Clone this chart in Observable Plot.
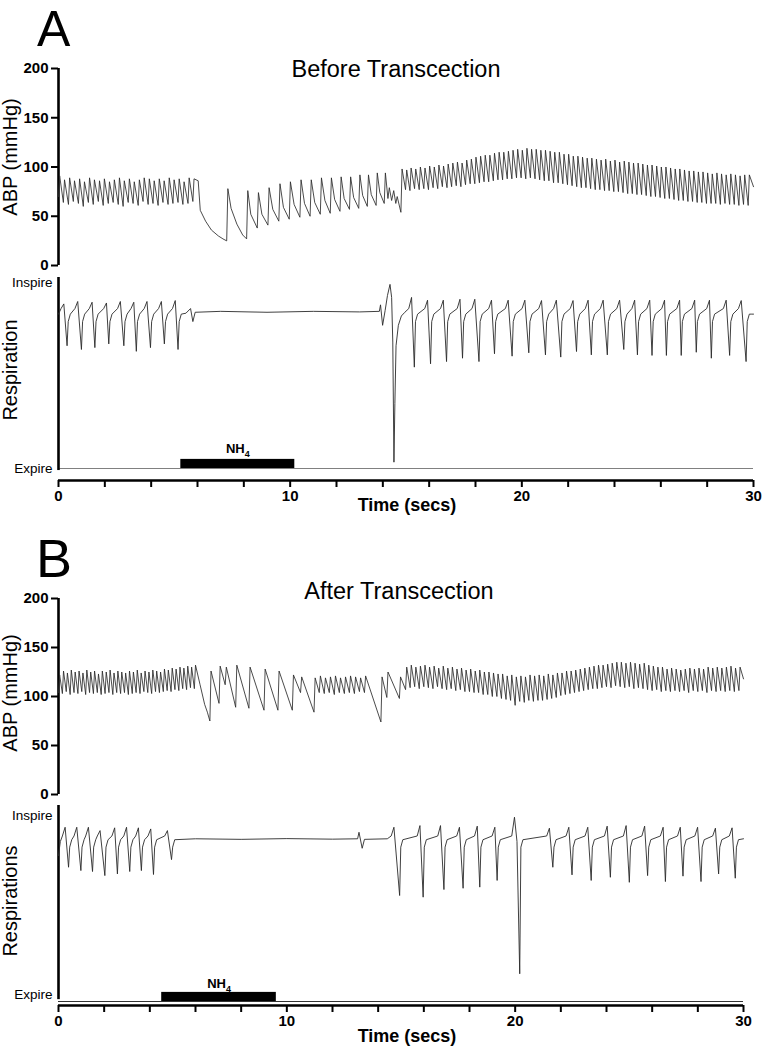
<!DOCTYPE html>
<html>
<head>
<meta charset="utf-8">
<script src="https://cdn.jsdelivr.net/npm/d3@7"></script>
<script src="https://cdn.jsdelivr.net/npm/@observablehq/plot@0.6"></script>
<style>
  html, body { margin: 0; padding: 0; background: #fff; }
  #fig { position: relative; width: 764px; height: 1050px; overflow: hidden; font-family: "Liberation Sans", Arial, Helvetica, sans-serif; }
  #fig svg { position: absolute; left: 0; overflow: visible; max-width: none; }
  #fig g[aria-label$="tick label"] text { font-weight: bold; }
</style>
</head>
<body>
<div id="fig"></div>
<script>
// ---------------- axes / labels ----------------
const timeDomain = [0, 30];
const timeTicks = [0, 2, 4, 6, 8, 10, 12, 14, 16, 18, 20, 22, 24, 26, 28, 30];
const timeLabels = [0, 10, 20, 30];
const abpDomain = [0, 200];
const abpTicks = [0, 50, 100, 150, 200];
const respLabels = ["Expire", "Inspire"];
const respLevels = [0, 1];
const panelTitles = ["Before Transcection", "After Transcection"];
const panelLetters = ["A", "B"];
const respTitles = ["Respiration", "Respirations"];
const nh4A = [5.28, 10.2];   // NH4 application (s), panel A
const nh4B = [4.52, 9.54];   // NH4 application (s), panel B

// ---------------- Panel A : arterial blood pressure (mmHg) ----------------
// beat onsets (s), diastolic trough and systolic peak of each beat
const abpA_onset = [0.00,0.21,0.43,0.64,0.86,1.07,1.29,1.50,1.72,1.93,2.15,2.36,2.58,2.79,3.01,3.22,3.44,3.65,3.87,4.08,4.30,4.51,4.73,4.94,5.16,5.37,5.59,5.80,
  7.26,8.12,8.58,9.04,9.51,9.96,10.42,10.86,11.30,11.73,12.15,12.56,12.96,13.33,13.71,14.06,
  14.78,14.98,15.17,15.37,15.57,15.77,15.97,16.17,16.37,16.57,
  16.77,16.97,17.17,17.37,17.57,17.77,17.97,18.17,18.37,18.57,
  18.77,18.97,19.17,19.37,19.57,19.77,19.97,20.17,20.37,20.57,
  20.77,20.97,21.17,21.37,21.57,21.77,21.97,22.17,22.37,22.57,
  22.77,22.97,23.17,23.37,23.57,23.77,23.97,24.17,24.37,24.57,
  24.77,24.97,25.17,25.37,25.57,25.77,25.97,26.17,26.37,26.57,
  26.77,26.97,27.17,27.37,27.57,27.77,27.97,28.17,28.37,28.57,
  28.77,28.97,29.17,29.37,29.57,29.77];
const abpA_low = [70,64,62,65,63,60,64,62,65,61,63,64,62,60,64,63,61,65,62,63,61,64,62,63,64,62,63,65,
  25,27,38,41,45,47,49,50,52,53,55,57,58,60,61,63,
  54,77,76,78,77,78,77,79,78,80,
  79,80,81,80,82,83,83,84,85,85,
  86,87,87,88,88,89,89,88,89,88,
  87,86,86,84,84,83,82,81,80,79,
  79,78,77,77,76,76,75,75,74,73,
  73,72,72,71,70,70,69,68,68,67,
  66,66,65,65,64,64,63,63,63,62,
  63,62,62,61,62,61];
const abpA_high = [91,87,89,86,88,85,89,87,86,88,85,87,89,86,88,85,87,89,88,86,88,86,89,87,88,85,89,88,
  78,76,74,79,83,85,87,87,89,89,90,90,92,92,94,94,
  98,97,99,98,100,99,101,100,102,101,
  103,104,105,104,107,108,110,111,112,112,
  114,115,115,116,117,118,117,119,118,118,
  117,117,116,115,115,113,113,111,111,110,
  109,109,108,107,108,106,107,105,106,105,
  104,104,103,102,102,101,100,100,99,98,
  98,97,96,96,95,95,94,93,94,93,
  92,93,92,91,92,92];
// irregular stretches of the trace (NH4 fall, decays, transition)
const abpA_extraT = [6.03,6.12,6.35,6.60,6.90,7.10,7.45,7.70,7.95,8.30,8.78,9.25,9.71,10.17,10.62,11.06,11.50,11.92,12.33,12.74,13.13,13.50,13.87,14.22,14.28,14.38,14.47,14.56,14.62,30.00];
const abpA_extraV = [86,56,45,36,30,27,58,42,31,52,52,57,59,62,63,64,66,67,68,69,71,72,74,68,79,66,76,63,70,80];

// ---------------- Panel A : respiration (0 = Expire, 1 = Inspire) ----------------
const respA_peakT = [0.23,0.83,1.45,2.07,2.67,3.25,3.82,4.44,5.04,
  15.24,15.93,16.61,17.33,17.97,18.69,19.41,20.13,20.85,21.49,22.21,22.86,23.51,24.22,24.87,25.52,26.16,26.81,27.46,28.10,28.82,29.47];
const respA_peakV = [0.885,0.898,0.894,0.89,0.898,0.894,0.898,0.898,0.903,
  0.92,0.905,0.905,0.91,0.91,0.905,0.905,0.905,0.903,0.905,0.903,0.905,0.905,0.905,0.905,0.905,0.905,0.905,0.905,0.905,0.905,0.903];
const respA_troughT = [0.37,0.99,1.57,2.17,2.82,3.36,3.97,4.57,5.16,
  15.36,16.06,16.75,17.44,18.15,18.82,19.58,20.30,21.02,21.68,22.36,23.00,23.69,24.40,24.99,25.62,26.24,26.88,27.53,28.18,28.97,29.68];
const respA_troughV = [0.66,0.64,0.65,0.67,0.66,0.63,0.65,0.67,0.64,
  0.545,0.563,0.575,0.593,0.575,0.617,0.604,0.622,0.611,0.599,0.629,0.611,0.611,0.64,0.611,0.608,0.608,0.608,0.625,0.593,0.608,0.575];
const respA_plateau = [0.79, 0.83, 0.86]; // after recovery, plateau, just before inspiration peak
const respA_extraT = [0.00,5.50,5.70,5.80,5.90,7.00,9.00,11.00,13.00,13.85,13.90,13.99,14.10,14.20,14.31,14.38,14.43,14.48,14.52,14.57,14.67,14.80,14.95,29.90,30.00];
const respA_extraV = [0.83,0.835,0.86,0.79,0.84,0.845,0.84,0.845,0.842,0.845,0.88,0.77,0.85,0.93,0.99,0.92,0.68,0.034,0.35,0.66,0.77,0.82,0.84,0.83,0.83];

// ---------------- Panel B : arterial blood pressure (mmHg) ----------------
const abpB_onset = [0.00,0.17,0.34,0.51,0.68,0.85,1.02,1.19,1.36,1.53,1.70,1.87,2.04,2.21,2.38,2.55,2.72,2.89,3.06,3.23,3.40,3.57,3.74,3.91,4.08,4.25,4.42,4.59,4.76,4.93,5.10,5.27,5.44,5.61,5.78,5.95,
  6.63,7.03,7.30,7.76,8.34,9.00,9.61,10.24,10.60,11.19,
  11.42,11.64,11.86,12.08,12.30,12.52,12.74,12.96,13.18,13.40,
  14.12,14.38,14.93,
  15.20,15.40,15.60,15.80,16.00,16.20,16.40,16.60,16.80,17.00,
  17.20,17.40,17.60,17.80,18.00,18.20,18.40,18.60,18.80,19.00,
  19.20,19.40,19.60,19.80,20.00,20.20,20.40,20.60,20.80,21.00,
  21.20,21.40,21.60,21.80,22.00,22.20,22.40,22.60,22.80,23.00,
  23.20,23.40,23.60,23.80,24.00,24.20,24.40,24.60,24.80,25.00,
  25.20,25.40,25.60,25.80,26.00,26.20,26.40,26.60,26.80,27.00,
  27.20,27.40,27.60,27.80,28.00,28.20,28.40,28.60,28.80,29.00,
  29.20,29.40,29.60,29.80];
const abpB_low = [104,103,105,102,104,103,105,102,104,103,104,102,103,104,102,104,103,104,102,103,104,103,105,104,103,105,104,105,106,105,107,106,108,107,109,108,
  75,93,112,89,88,86,86,86,104,84,
  104,103,104,102,104,103,104,103,105,104,
  74,99,98,
  107,109,110,108,110,109,108,110,108,107,
  108,106,107,105,105,104,104,102,102,100,
  100,98,97,96,91,95,94,96,95,96,
  96,97,98,99,101,102,103,104,105,106,
  107,108,108,109,110,109,111,110,109,110,
  108,109,108,107,106,107,105,106,105,106,
  105,106,104,106,105,106,104,106,105,106,
  105,106,105,106];
const abpB_high = [122,126,124,127,125,126,124,127,125,126,123,126,125,127,124,126,125,124,126,125,127,124,126,125,127,126,125,128,127,129,128,130,129,131,130,132,
  126,131,130,132,130,128,126,122,120,119,
  121,119,120,121,119,120,121,120,119,121,
  120,125,120,
  130,132,130,131,132,130,131,129,131,129,
  130,128,129,127,128,126,127,125,125,124,
  123,123,121,122,120,121,120,122,121,122,
  121,123,122,124,124,126,126,127,128,129,
  130,131,132,132,133,134,135,135,134,135,
  134,133,134,132,131,130,130,128,129,128,
  127,128,129,128,129,128,130,129,130,129,
  130,131,129,130];
const abpB_extraT = [6.20,6.40,6.52,30.00];
const abpB_extraV = [112,92,84,118];

// ---------------- Panel B : respiration ----------------
const respB_peakT = [0.29,0.80,1.31,1.82,2.46,2.98,3.50,4.04,4.77,
  14.69,15.83,16.73,17.56,18.34,19.11,19.97,21.50,22.35,23.18,24.03,24.86,25.67,26.48,27.23,27.99,28.77,29.50];
const respB_peakV = [0.937,0.937,0.937,0.919,0.934,0.937,0.934,0.928,0.919,
  0.937,0.946,0.946,0.937,0.943,0.937,0.991,0.932,0.937,0.937,0.943,0.946,0.943,0.937,0.937,0.937,0.932,0.934];
const respB_troughT = [0.44,0.98,1.49,2.03,2.58,3.12,3.63,4.16,4.95,
  14.94,15.97,16.88,17.72,18.45,19.21,20.20,21.65,22.49,23.33,24.17,25.00,25.80,26.58,27.35,28.14,28.91,29.64];
const respB_troughV = [0.722,0.704,0.699,0.677,0.686,0.699,0.704,0.683,0.763,
  0.570,0.561,0.602,0.609,0.615,0.651,0.149,0.722,0.681,0.651,0.668,0.641,0.677,0.645,0.674,0.645,0.686,0.663];
const respB_plateau = [0.83, 0.87, 0.89];
const respB_extraT = [0.00,0.08,6.00,8.00,10.00,12.00,13.10,13.16,13.30,13.40,14.40,20.08,30.00];
const respB_extraV = [0.785,0.86,0.875,0.872,0.876,0.873,0.875,0.91,0.824,0.872,0.875,0.86,0.875];

// ---------------- trace builders ----------------
const RISE = 0.05; // systolic upstroke duration (s)
function abpTrace(on, lo, hi, exT, exV) {
  const pts = [];
  const n = Math.min(on.length, lo.length, hi.length);
  for (let i = 0; i < n; i++) {
    pts.push({t: on[i], v: lo[i]});
    pts.push({t: on[i] + RISE, v: hi[i]});
  }
  exT.forEach((t, i) => pts.push({t, v: exV[i]}));
  return pts.sort((a, b) => a.t - b.t);
}
function respTrace(pkT, pkV, trT, trV, plat, exT, exV) {
  const pts = [];
  const n = Math.min(pkT.length, pkV.length, trT.length, trV.length);
  for (let i = 0; i < n; i++) {
    pts.push({t: pkT[i] - 0.12, v: plat[2]});
    pts.push({t: pkT[i], v: pkV[i]});
    pts.push({t: trT[i], v: trV[i]});
    pts.push({t: trT[i] + 0.05, v: plat[0]});
    pts.push({t: trT[i] + 0.14, v: plat[1]});
  }
  exT.forEach((t, i) => pts.push({t, v: exV[i]}));
  return pts.sort((a, b) => a.t - b.t);
}

const abpA = abpTrace(abpA_onset, abpA_low, abpA_high, abpA_extraT, abpA_extraV);
const abpB = abpTrace(abpB_onset, abpB_low, abpB_high, abpB_extraT, abpB_extraV);
const respA = respTrace(respA_peakT, respA_peakV, respA_troughT, respA_troughV, respA_plateau, respA_extraT, respA_extraV);
const respB = respTrace(respB_peakT, respB_peakV, respB_troughT, respB_troughV, respB_plateau, respB_extraT, respB_extraV);

// ---------------- drawing ----------------
const FONT = '"Liberation Sans", Arial, Helvetica, sans-serif';
const fig = document.getElementById("fig");
const baseStyle = {fontFamily: FONT, background: "transparent", color: "#000", overflow: "visible"};
const TRACE = "#2a2a2a";

function place(svg, top) {
  svg.style.top = top + "px";
  svg.style.left = "0px";
  fig.appendChild(svg);
  svg.querySelectorAll("text, tspan").forEach(el => {
    if (el.childElementCount === 0 && el.textContent === "NH4") {
      el.textContent = "NH";
      const ts = document.createElementNS("http://www.w3.org/2000/svg", "tspan");
      ts.setAttribute("dy", "4");
      ts.setAttribute("font-size", "9");
      ts.textContent = "4";
      el.appendChild(ts);
    }
  });
}

function abpPlot(data, marginRight, marginBottom) {
  return Plot.plot({
    width: 764, height: 215,
    marginLeft: 58, marginRight, marginTop: 8, marginBottom,
    x: {domain: timeDomain, axis: null},
    y: {domain: abpDomain},
    style: baseStyle,
    marks: [
      Plot.axisY({ticks: abpTicks, tickSize: 7, tickPadding: 3, fontSize: 15, strokeWidth: 2, label: null}),
      Plot.ruleX([timeDomain[0]], {y1: abpDomain[0], y2: abpDomain[1], strokeWidth: 2.6}),
      Plot.line(data, {x: "t", y: "v", stroke: TRACE, strokeWidth: 0.85})
    ]
  });
}

const BAR_H = 0.049;
function respPlot(cfg) {
  const nh = [cfg.nh4];
  return Plot.plot({
    width: 764, height: cfg.height,
    marginLeft: 58, marginRight: cfg.marginRight, marginTop: cfg.marginTop, marginBottom: 45,
    x: {domain: timeDomain},
    y: {domain: cfg.yDomain, axis: null},
    style: baseStyle,
    marks: [
      Plot.ruleY([0], {stroke: cfg.baseStroke, strokeWidth: 1}),
      Plot.ruleY([cfg.yDomain[0]], {strokeWidth: 2.6}),
      Plot.axisX({ticks: timeTicks, tickSize: 7, tickPadding: 3, fontSize: 15, strokeWidth: 2,
        tickFormat: d => timeLabels.includes(d) ? String(d) : "", label: null}),
      Plot.ruleX([timeDomain[0]], {y1: cfg.axisSpan[0], y2: cfg.axisSpan[1], strokeWidth: 2.6}),
      Plot.rect(nh, {x1: d => d[0], x2: d => d[1], y1: 0, y2: BAR_H, fill: "#000"}),
      Plot.text(nh, {x: d => (d[0] + d[1]) / 2, y: BAR_H, text: () => "NH4", fontSize: 13, fontWeight: "bold",
        fill: "#000", lineAnchor: "bottom", dy: cfg.nhDy}),
      Plot.text([respLabels[1]], {x: timeDomain[0], y: respLevels[1], text: d => d, textAnchor: "end",
        dx: -6, fontSize: 13.5, letterSpacing: cfg.spacing}),
      Plot.text([respLabels[0]], {x: timeDomain[0], y: respLevels[0], text: d => d, textAnchor: "end",
        dx: -6, dy: cfg.expDy, fontSize: 13.5, letterSpacing: cfg.spacing}),
      Plot.line(cfg.data, {x: "t", y: "v", stroke: TRACE, strokeWidth: 0.9})
    ]
  });
}

place(abpPlot(abpA, 11, 10), 60);
place(respPlot({data: respA, nh4: nh4A, height: 260, marginTop: 12, marginRight: 11,
  yDomain: [-0.0645, 1.027], axisSpan: [-0.011, 1.027], baseStroke: "#808080", nhDy: -6, expDy: 0, spacing: "1.4px"}), 265);
place(abpPlot(abpB, 21, 11), 590);
place(respPlot({data: respB, nh4: nh4B, height: 255, marginTop: 10, marginRight: 21,
  yDomain: [-0.0215, 1.054], axisSpan: [0.01, 1.054], baseStroke: "#333", nhDy: -4, expDy: -7, spacing: "0px"}), 795);

// letters, titles and axis titles
const ov = d3.select(fig).append("svg")
  .attr("width", 764).attr("height", 1050)
  .style("top", "0px").style("font-family", FONT);
const txt = (x, y, s, size, opts = {}) => {
  const t = ov.append("text").attr("x", x).attr("y", y).attr("font-size", size).attr("fill", "#000").text(s);
  if (opts.anchor) t.attr("text-anchor", opts.anchor);
  if (opts.weight) t.attr("font-weight", opts.weight);
  if (opts.rotate) t.attr("transform", `rotate(-90 ${x} ${y})`);
  return t;
};
txt(37, 46, panelLetters[0], 50);
txt(36, 577, panelLetters[1], 54);
txt(396, 77, panelTitles[0], 23.5, {anchor: "middle"});
txt(399, 599, panelTitles[1], 23.5, {anchor: "middle"});
txt(17, 157, "ABP (mmHg)", 20, {anchor: "middle", rotate: true});
txt(17, 693, "ABP (mmHg)", 20, {anchor: "middle", rotate: true});
txt(17, 370, respTitles[0], 20, {anchor: "middle", rotate: true});
txt(17, 901, respTitles[1], 20, {anchor: "middle", rotate: true});
txt(407, 511, "Time (secs)", 18, {anchor: "middle", weight: "bold"});
txt(407, 1042, "Time (secs)", 18, {anchor: "middle", weight: "bold"});
</script>
</body>
</html>
